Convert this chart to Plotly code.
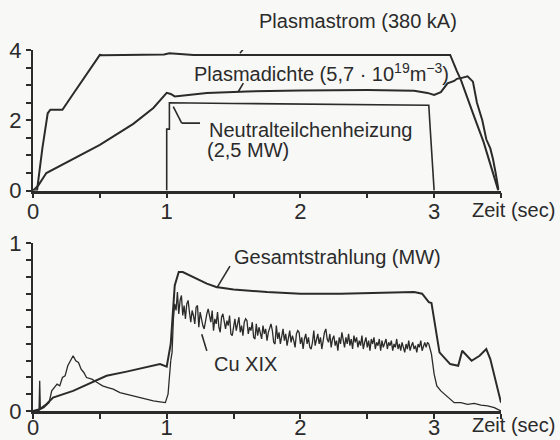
import plotly.graph_objects as go

# ---------------- data ----------------
strom_t = [0.0, 0.03, 0.07, 0.11, 0.13, 0.22, 0.30, 0.40, 0.50, 0.52, 0.80, 0.98, 1.02, 1.10, 1.20,
           1.60, 2.00, 2.50, 2.90, 3.12, 3.17, 3.20, 3.30, 3.37, 3.48]
strom_v = [0.0, 0.0, 1.20, 2.20, 2.30, 2.30, 2.75, 3.30, 3.86, 3.85, 3.86, 3.87, 3.91, 3.88, 3.86,
           3.86, 3.86, 3.87, 3.88, 3.86, 3.40, 3.15, 2.10, 1.38, 0.0]

dichte_t = [0.0, 0.04, 0.10, 0.15, 0.30, 0.50, 0.75, 0.90, 1.00, 1.03, 1.06, 1.15, 1.30, 1.60, 2.00,
            2.50, 2.85, 2.95, 3.00, 3.05, 3.10, 3.15, 3.17, 3.20, 3.25, 3.29, 3.32, 3.36, 3.39, 3.42,
            3.44, 3.46, 3.48]
dichte_v = [0.0, 0.15, 0.50, 0.60, 0.88, 1.30, 1.90, 2.35, 2.78, 2.75, 2.68, 2.72, 2.78, 2.82, 2.85,
            2.86, 2.84, 2.78, 2.72, 2.80, 3.05, 3.12, 3.18, 3.20, 3.25, 3.10, 2.50, 2.00, 1.46, 1.20,
            0.90, 0.50, 0.05]

heiz_t = [1.00, 1.00, 1.02, 1.02, 1.50, 2.00, 2.50, 2.96, 2.97, 2.98, 2.99, 3.00]
heiz_v = [0.00, 1.75, 1.75, 2.50, 2.48, 2.46, 2.45, 2.43, 1.80, 1.18, 0.57, 0.00]

gesamt_t = [0.0, 0.05, 0.10, 0.15, 0.30, 0.55, 0.70, 0.85, 0.95, 1.00, 1.03, 1.06, 1.09, 1.12, 1.20,
            1.30, 1.37, 1.50, 1.75, 2.00, 2.30, 2.50, 2.70, 2.85, 2.91, 2.96, 2.98, 3.04, 3.12, 3.18,
            3.21, 3.28, 3.34, 3.39, 3.42, 3.50]
gesamt_v = [0.0, 0.01, 0.04, 0.08, 0.12, 0.21, 0.235, 0.26, 0.28, 0.265, 0.40, 0.75, 0.83, 0.83, 0.80,
            0.76, 0.74, 0.725, 0.71, 0.70, 0.70, 0.705, 0.71, 0.71, 0.70, 0.65, 0.645, 0.35, 0.28, 0.27,
            0.36, 0.30, 0.33, 0.37, 0.31, 0.05]

# Cu XIX, rise phase (explicit times)
cu_early_t = [0.0, 0.03, 0.045, 0.05, 0.055, 0.08, 0.12, 0.14, 0.16, 0.18, 0.20, 0.22, 0.24, 0.26,
              0.28, 0.30, 0.32, 0.34, 0.36, 0.38, 0.40, 0.44, 0.48, 0.52, 0.56, 0.60, 0.65, 0.70,
              0.75, 0.80, 0.85, 0.90, 0.95, 0.99, 1.01, 1.03]
cu_early_v = [0.0, 0.0, 0.0, 0.18, 0.01, 0.02, 0.05, 0.12, 0.14, 0.16, 0.15, 0.20, 0.21, 0.27,
              0.30, 0.33, 0.30, 0.29, 0.25, 0.23, 0.20, 0.19, 0.17, 0.15, 0.14, 0.13, 0.11, 0.10,
              0.09, 0.08, 0.07, 0.06, 0.055, 0.05, 0.10, 0.30]
# Cu XIX, heating phase, sampled every 0.01 s starting at 1.03 s
cu_mid_t0 = 1.03
cu_mid_dt = 0.01
cu_mid_v = [0.30,
            0.35, 0.55, 0.64, 0.60, 0.71, 0.58, 0.66, 0.69, 0.57, 0.63,
            0.55, 0.64, 0.66, 0.59, 0.53, 0.60, 0.57, 0.52, 0.62, 0.63,
            0.50, 0.59, 0.54, 0.51, 0.49, 0.55, 0.58, 0.61, 0.57, 0.53,
            0.60, 0.48, 0.55, 0.52, 0.59, 0.50, 0.47, 0.56, 0.58, 0.53,
            0.49, 0.54, 0.51, 0.57, 0.46, 0.45, 0.50, 0.55, 0.48, 0.52,
            0.56, 0.47, 0.51, 0.45, 0.53, 0.55, 0.54, 0.46, 0.50, 0.48,
            0.53, 0.44, 0.43, 0.52, 0.45, 0.50, 0.47, 0.43, 0.51, 0.46,
            0.49, 0.42, 0.47, 0.50, 0.52, 0.48, 0.41, 0.40, 0.51, 0.43,
            0.47, 0.40, 0.45, 0.49, 0.42, 0.46, 0.39, 0.44, 0.48, 0.41,
            0.45, 0.42, 0.38, 0.46, 0.48, 0.47, 0.40, 0.44, 0.37, 0.43,
            0.46, 0.40, 0.44, 0.38, 0.37, 0.41, 0.48, 0.39, 0.43, 0.46,
            0.40, 0.44, 0.37, 0.42, 0.47, 0.49, 0.43, 0.41, 0.46, 0.38,
            0.43, 0.45, 0.39, 0.42, 0.36, 0.44, 0.40, 0.47, 0.41, 0.38,
            0.44, 0.40, 0.46, 0.39, 0.43, 0.37, 0.45, 0.41, 0.44, 0.38,
            0.42, 0.39, 0.45, 0.37, 0.41, 0.44, 0.38, 0.42, 0.36, 0.43,
            0.40, 0.44, 0.37, 0.41, 0.39, 0.43, 0.36, 0.42, 0.38, 0.40,
            0.43, 0.37, 0.41, 0.39, 0.42, 0.36, 0.40, 0.38, 0.43, 0.37,
            0.40, 0.36, 0.41, 0.38, 0.35, 0.40, 0.37, 0.42, 0.36, 0.39,
            0.41, 0.37, 0.39, 0.35, 0.40, 0.38, 0.42, 0.36, 0.39, 0.41,
            0.38, 0.41, 0.40]
# Cu XIX, decay phase (explicit times)
cu_late_t = [2.96, 2.98, 3.00, 3.02, 3.05, 3.08, 3.12, 3.15, 3.20, 3.25, 3.30, 3.35, 3.40, 3.45, 3.50]
cu_late_v = [0.40, 0.34, 0.22, 0.15, 0.12, 0.10, 0.07, 0.05, 0.05, 0.04, 0.045, 0.035, 0.03, 0.02, 0.0]

x_ticks = [0, 1, 2, 3]
y1_ticks = [0, 2, 4]
y2_ticks = [0, 1]

# ---------------- styling ----------------
INK = "#2b2b2b"
BG = "#f8f8f6"
FONT = "Liberation Sans, Arial, sans-serif"
FS = 20
TFS = 22

fig = go.Figure()
line = dict(color=INK, width=2)
fig.add_trace(go.Scatter(x=strom_t, y=strom_v, mode="lines", line=line, xaxis="x", yaxis="y"))
fig.add_trace(go.Scatter(x=dichte_t, y=dichte_v, mode="lines", line=line, xaxis="x", yaxis="y"))
fig.add_trace(go.Scatter(x=heiz_t, y=heiz_v, mode="lines", line=dict(color=INK, width=1.6), xaxis="x", yaxis="y"))
fig.add_trace(go.Scatter(x=gesamt_t, y=gesamt_v, mode="lines", line=line, xaxis="x2", yaxis="y2"))
cu_line = dict(color=INK, width=1.3)
fig.add_trace(go.Scatter(x=cu_early_t, y=cu_early_v, mode="lines", line=cu_line, xaxis="x2", yaxis="y2"))
fig.add_trace(go.Scatter(x0=cu_mid_t0, dx=cu_mid_dt, y=cu_mid_v, mode="lines", line=cu_line, xaxis="x2", yaxis="y2"))
fig.add_trace(go.Scatter(x=cu_late_t, y=cu_late_v, mode="lines", line=cu_line, xaxis="x2", yaxis="y2"))

def xax(anchor, standoff):
    return dict(range=[0, 3.5], domain=[0, 1], anchor=anchor, tickvals=x_ticks,
                ticktext=[str(v) for v in x_ticks], ticks="outside", ticklen=5, tickwidth=2,
                tickcolor=INK, showline=True, linecolor=INK, linewidth=2.5, showgrid=False,
                zeroline=False, automargin=False, ticklabelstandoff=standoff,
                minor=dict(dtick=0.5, tick0=0, ticks="outside", ticklen=5, tickwidth=2, tickcolor=INK),
                tickfont=dict(family=FONT, size=TFS, color=INK))

def yax(anchor, rng, dom, tv, mdt):
    return dict(range=rng, domain=dom, anchor=anchor, tickvals=tv, ticktext=[str(v) for v in tv],
                ticks="outside", ticklen=5, tickwidth=2, tickcolor=INK, showline=True, linecolor=INK,
                linewidth=2, showgrid=False, zeroline=False, automargin=False,
                minor=dict(dtick=mdt, tick0=0, ticks="outside", ticklen=5, tickwidth=1.5, tickcolor=INK),
                tickfont=dict(family=FONT, size=TFS, color=INK))

anns = []
def ann(text, x, xref, y, yref="paper"):
    anns.append(dict(text=text, x=x, y=y, xref=xref, yref=yref, xanchor="left", yanchor="middle",
                     showarrow=False, font=dict(family=FONT, size=FS, color=INK)))

ann("Plasmastrom (380 kA)", 1.675, "x", 1.080)
ann("Plasmadichte (5,7 · 10<sup>19</sup>m<sup>−3</sup>)", 1.187, "x", 0.939)
ann("Neutralteilchenheizung", 1.30, "x", 0.779)
ann("(2,5 MW)", 1.286, "x", 0.722)
ann("Gesamtstrahlung (MW)", 1.486, "x2", 0.4254)
ann("Cu XIX", 1.336, "x2", 0.1298)
ann("Zeit (sec)", 3.27, "x", 0.556)
ann("Zeit (sec)", 3.27, "x2", -0.040)

shapes = []
def seg(x0, y0, x1, y1, xr, yr):
    shapes.append(dict(type="line", x0=x0, y0=y0, x1=x1, y1=y1, xref=xr, yref=yr,
                       line=dict(color=INK, width=1.6)))

seg(1.66, 4.43, 1.548, 3.91, "x", "y")
seg(1.573, 3.06, 1.536, 2.82, "x", "y")
seg(1.049, 2.39, 1.112, 1.92, "x", "y")
seg(1.112, 1.92, 1.249, 1.92, "x", "y")
seg(1.473, 0.865, 1.374, 0.734, "x2", "y2")
seg(1.30, 0.359, 1.262, 0.458, "x2", "y2")

fig.update_layout(
    width=560, height=440, template="none",
    margin=dict(l=33, r=59, t=50, b=29, pad=0),
    paper_bgcolor=BG, plot_bgcolor=BG, showlegend=False,
    font=dict(family=FONT, size=FS, color=INK),
    xaxis=xax("y", -6), yaxis=yax("x", [0, 4], [0.6105, 1.0], y1_ticks, 0.5),
    xaxis2=xax("y2", -10), yaxis2=yax("x2", [0, 1], [0.0, 0.464], y2_ticks, 0.1),
    annotations=anns, shapes=shapes,
)

fig.write_html("out.html")
